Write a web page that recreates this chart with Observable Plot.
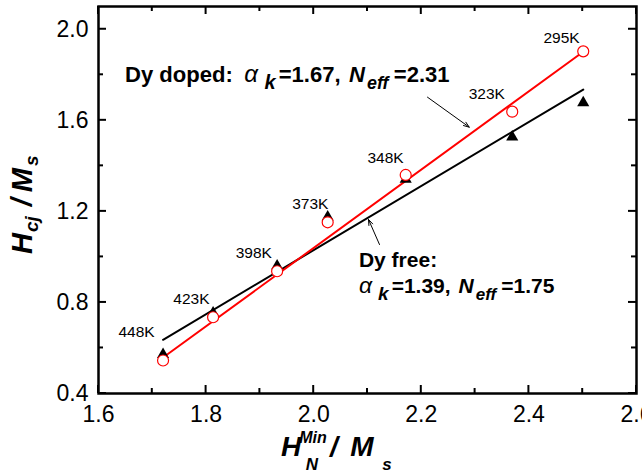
<!DOCTYPE html>
<html>
<head>
<meta charset="utf-8">
<script src="https://cdn.jsdelivr.net/npm/d3@7"></script>
<script src="https://cdn.jsdelivr.net/npm/@observablehq/plot@0.6"></script>
<style>
  html, body { margin: 0; padding: 0; background: #fff; }
  #chart { width: 642px; height: 475px; overflow: hidden; }
</style>
</head>
<body>
<div id="chart"></div>
<script>
// ---- data ----
const temps = ["448K", "423K", "398K", "373K", "348K", "323K", "295K"];
const hN = [1.720, 1.813, 1.932, 2.026, 2.171, 2.369, 2.501];           // H_N^Min / M_s
const hcjDoped = [0.545, 0.735, 0.937, 1.152, 1.360, 1.638, 1.903];     // Dy doped (open circles)
const hcjFree = [0.571, 0.754, 0.960, 1.175, 1.341, 1.527, 1.677];      // Dy free (triangles)

// linear fits (end points)
const fitX = [1.720, 2.501];
const fitDoped = [0.558, 1.901];
const fitFree = [0.636, 1.735];

// temperature label anchors (data units, left/baseline)
const labelX = [1.637, 1.739, 1.855, 1.960, 2.100, 2.288, 2.427];
const labelY = [0.647, 0.795, 0.993, 1.211, 1.412, 1.695, 1.939];

// annotation arrows (data units)
const arrowX1 = [2.2115, 2.1223];
const arrowY1 = [1.7016, 1.0545];
const arrowX2 = [2.2891, 2.1019];
const arrowY2 = [1.5699, 1.1643];

// annotation text anchors (data units)
const noteDopedPos = [1.6502, 1.766];
const noteFree1Pos = [2.085, 0.955];
const noteFree2Pos = [2.085, 0.838];

// ticks
const majorX = [1.6, 1.8, 2.0, 2.2, 2.4, 2.6];
const minorX = [1.7, 1.9, 2.1, 2.3, 2.5];
const majorY = [0.4, 0.8, 1.2, 1.6, 2.0];
const minorY = [0.6, 1.0, 1.4, 1.8];

// ---- build tables ----
const points = temps.map((t, i) => ({t, x: hN[i], doped: hcjDoped[i], free: hcjFree[i], lx: labelX[i], ly: labelY[i]}));
const fits = fitX.map((x, i) => ({x, doped: fitDoped[i], free: fitFree[i]}));
const arrows = arrowX1.map((x1, i) => ({x1, y1: arrowY1[i], x2: arrowX2[i], y2: arrowY2[i]}));

const FONT = "'Liberation Sans', Arial, Helvetica, sans-serif";

function findArgs(args) {
  const scales = args.find(a => a && typeof a.x === "function" && typeof a.y === "function");
  const dims = args.find(a => a && a.marginLeft !== undefined && a.width !== undefined);
  return {scales, dims};
}

// rich text helper: parts flow with tspans; dx gives extra gap before a part
function richText(g, x, y, parts, opts = {}) {
  const k = opts.scale || 1;
  const text = g.append("text")
    .attr("font-family", FONT)
    .attr("fill", "black")
    .attr("text-anchor", opts.anchor || "start");
  if (opts.transform) text.attr("transform", opts.transform).attr("x", 0).attr("y", 0);
  else text.attr("x", x).attr("y", y);
  let shift = 0;
  for (const p of parts) {
    const ts = text.append("tspan").text(p.t)
      .attr("font-size", (p.size || 21) * k)
      .attr("font-weight", p.weight || "bold")
      .attr("font-style", p.style || "normal");
    const target = (p.shift || 0) * k;
    if (target !== shift) { ts.attr("dy", target - shift); shift = target; }
    if (p.dx) ts.attr("dx", p.dx * k);
  }
  return text;
}

// frame ticks (inward, on all four sides)
function frameTicks(...args) {
  const {scales, dims} = findArgs(args);
  const {x, y} = scales;
  const L = dims.marginLeft, R = dims.width - dims.marginRight;
  const T = dims.marginTop, B = dims.height - dims.marginBottom;
  const g = d3.create("svg:g").attr("stroke", "black").attr("stroke-width", 2).attr("fill", "none");
  const MAJ = 8, MIN = 5;
  for (const [vals, len] of [[majorX, MAJ], [minorX, MIN]]) {
    for (const v of vals) {
      const px = x(v);
      g.append("line").attr("x1", px).attr("x2", px).attr("y1", B).attr("y2", B - len);
      g.append("line").attr("x1", px).attr("x2", px).attr("y1", T).attr("y2", T + len);
    }
  }
  for (const [vals, len] of [[majorY, MAJ], [minorY, MIN]]) {
    for (const v of vals) {
      const py = y(v);
      g.append("line").attr("y1", py).attr("y2", py).attr("x1", L).attr("x2", L + len);
      g.append("line").attr("y1", py).attr("y2", py).attr("x1", R).attr("x2", R - len);
    }
  }
  return g.node();
}

function fitParts(a, n) {
  return [
    {t: "\u03B1", weight: "normal", style: "italic", size: 23},
    {t: "k", style: "italic", size: 19, shift: 7, dx: 6},
    {t: "=" + a + ",", shift: 0, dx: 3},
    {t: "N", style: "italic", dx: 8},
    {t: "eff", style: "italic", size: 17, shift: 7, dx: 2},
    {t: "=" + n, shift: 0, dx: 5}
  ];
}

// annotations with sub/superscripts
function notes(...args) {
  const {scales} = findArgs(args);
  const {x, y} = scales;
  const g = d3.create("svg:g");
  const doped = [{t: "Dy doped:"}, ...fitParts("1.67", "2.31")];
  doped[1].dx = 11;
  richText(g, x(noteDopedPos[0]), y(noteDopedPos[1]), doped, {scale: 1.05});
  richText(g, x(noteFree1Pos[0]), y(noteFree1Pos[1]), [{t: "Dy free:"}]);
  richText(g, x(noteFree2Pos[0]), y(noteFree2Pos[1]), fitParts("1.39", "1.75"));

  // x title: H with stacked Min / N, then / M_s
  const xt = g.append("g").attr("font-family", FONT).attr("font-weight", "bold").attr("font-style", "italic").attr("fill", "black");
  xt.append("text").attr("x", 291).attr("y", 456).attr("font-size", 28).text("H");
  xt.append("text").attr("x", 313).attr("y", 443).attr("font-size", 16).text("Min");
  xt.append("text").attr("x", 312).attr("y", 470).attr("font-size", 17).text("N");
  xt.append("text").attr("x", 334).attr("y", 456).attr("font-size", 28).text("/");
  xt.append("text").attr("x", 362).attr("y", 456).attr("font-size", 28).text("M");
  xt.append("text").attr("x", 387).attr("y", 470).attr("font-size", 17).text("s");

  // y title, rotated
  richText(g, 0, 0, [
    {t: "H", style: "italic", size: 29},
    {t: "cj", style: "italic", size: 19, shift: 6, dx: 1},
    {t: "/", style: "italic", size: 29, shift: 0, dx: 10},
    {t: "M", style: "italic", size: 29, dx: 6},
    {t: "s", style: "italic", size: 19, shift: 6, dx: 2}
  ], {transform: `translate(32,254) rotate(-90)`});
  return g.node();
}

const chart = Plot.plot({
  width: 642,
  height: 475,
  marginLeft: 98,
  marginRight: 6,
  marginTop: 6,
  marginBottom: 82,
  style: {fontFamily: FONT, color: "black", background: "white", overflow: "visible"},
  x: {domain: [1.6, 2.6]},
  y: {domain: [0.4, 2.1]},
  marks: [
    Plot.axisX(majorX, {tickSize: 0, tickPadding: 12, fontSize: 23, tickFormat: d3.format(".1f"), label: null}),
    Plot.axisY(majorY, {tickSize: 0, tickPadding: 10, fontSize: 23, tickFormat: d3.format(".1f"), label: null}),
    Plot.line(fits, {x: "x", y: "free", stroke: "black", strokeWidth: 2}),
    Plot.line(fits, {x: "x", y: "doped", stroke: "#ff0000", strokeWidth: 2}),
    Plot.dot(points, {x: "x", y: "free", symbol: "triangle", r: 4.5, fill: "black", stroke: "none"}),
    Plot.dot(points, {x: "x", y: "doped", symbol: "circle", r: 5.5, fill: "white", stroke: "#ff0000", strokeWidth: 1.2}),
    Plot.text(points, {x: "lx", y: "ly", text: "t", textAnchor: "start", lineAnchor: "middle", dy: -5, fontSize: 15.5, fill: "black"}),
    Plot.arrow(arrows, {x1: "x1", y1: "y1", x2: "x2", y2: "y2", stroke: "black", strokeWidth: 1, headLength: 9, headAngle: 40}),
    Plot.frame({stroke: "black", strokeWidth: 2.5}),
    frameTicks,
    notes
  ]
});
document.getElementById("chart").appendChild(chart);
</script>
</body>
</html>
